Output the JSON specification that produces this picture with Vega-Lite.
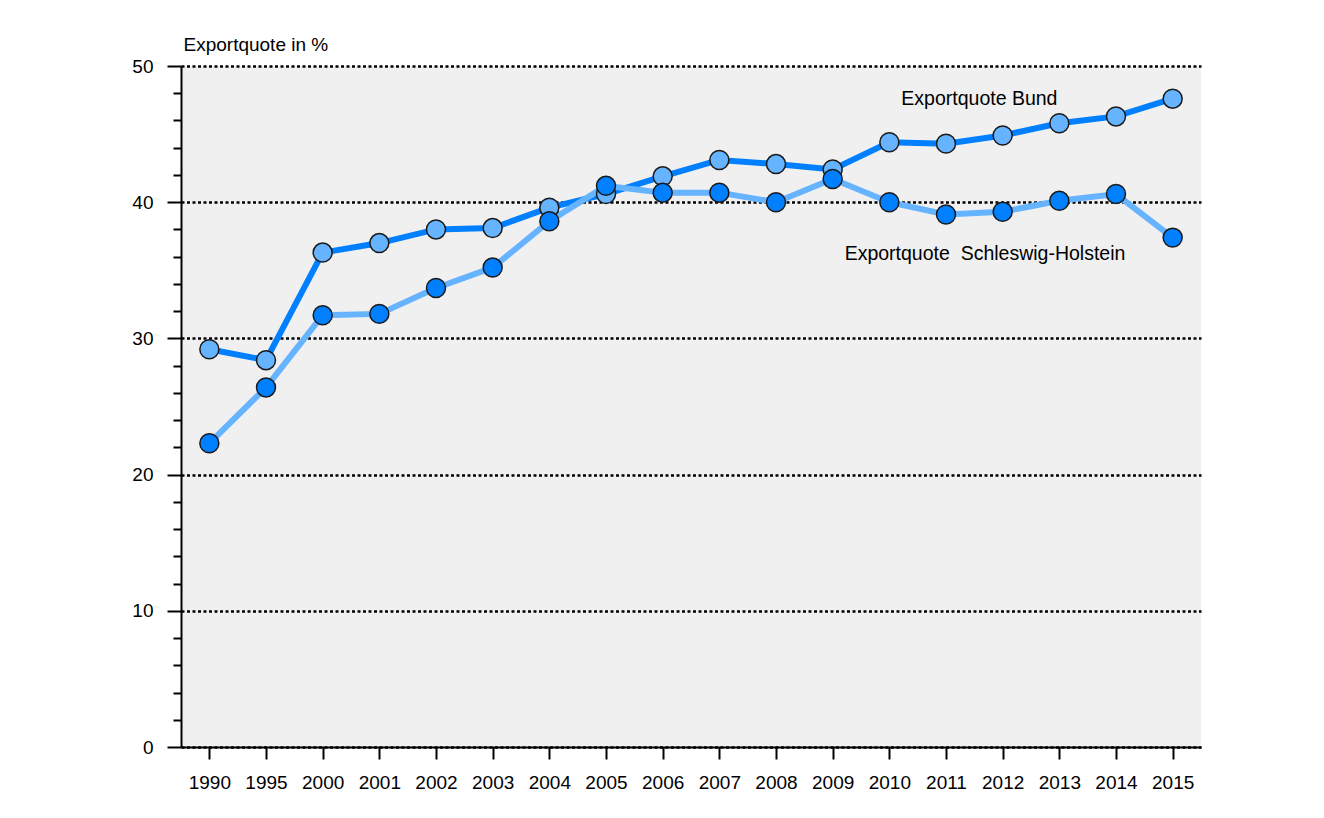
{
  "$schema": "https://vega.github.io/schema/vega-lite/v6.json",
  "autosize": "none",
  "width": 1020,
  "height": 681,
  "padding": {"left": 181, "top": 66, "right": 123, "bottom": 71},
  "background": "white",
  "config": {
    "view": {"fill": "#f0f0f0", "stroke": null},
    "font": "Liberation Sans Narrow, Arial Narrow, Liberation Sans, Arial",
    "axis": {"labelFont": "Liberation Sans Narrow, Arial Narrow, Liberation Sans, Arial", "titleFont": "Liberation Sans Narrow, Arial Narrow, Liberation Sans, Arial", "labelColor": "black", "titleColor": "black"}
  },
  "datasets": {
    "quote": [
      {"jahr": "1990", "serie": "Bund", "wert": 29.2},
      {"jahr": "1995", "serie": "Bund", "wert": 28.4},
      {"jahr": "2000", "serie": "Bund", "wert": 36.3},
      {"jahr": "2001", "serie": "Bund", "wert": 37.0},
      {"jahr": "2002", "serie": "Bund", "wert": 38.0},
      {"jahr": "2003", "serie": "Bund", "wert": 38.1},
      {"jahr": "2004", "serie": "Bund", "wert": 39.6},
      {"jahr": "2005", "serie": "Bund", "wert": 40.6},
      {"jahr": "2006", "serie": "Bund", "wert": 41.9},
      {"jahr": "2007", "serie": "Bund", "wert": 43.1},
      {"jahr": "2008", "serie": "Bund", "wert": 42.8},
      {"jahr": "2009", "serie": "Bund", "wert": 42.4},
      {"jahr": "2010", "serie": "Bund", "wert": 44.4},
      {"jahr": "2011", "serie": "Bund", "wert": 44.3},
      {"jahr": "2012", "serie": "Bund", "wert": 44.9},
      {"jahr": "2013", "serie": "Bund", "wert": 45.8},
      {"jahr": "2014", "serie": "Bund", "wert": 46.3},
      {"jahr": "2015", "serie": "Bund", "wert": 47.6},
      {"jahr": "1990", "serie": "SH", "wert": 22.3},
      {"jahr": "1995", "serie": "SH", "wert": 26.4},
      {"jahr": "2000", "serie": "SH", "wert": 31.7},
      {"jahr": "2001", "serie": "SH", "wert": 31.8},
      {"jahr": "2002", "serie": "SH", "wert": 33.7},
      {"jahr": "2003", "serie": "SH", "wert": 35.2},
      {"jahr": "2004", "serie": "SH", "wert": 38.6},
      {"jahr": "2005", "serie": "SH", "wert": 41.2},
      {"jahr": "2006", "serie": "SH", "wert": 40.7},
      {"jahr": "2007", "serie": "SH", "wert": 40.7},
      {"jahr": "2008", "serie": "SH", "wert": 40.0},
      {"jahr": "2009", "serie": "SH", "wert": 41.7},
      {"jahr": "2010", "serie": "SH", "wert": 40.0},
      {"jahr": "2011", "serie": "SH", "wert": 39.1},
      {"jahr": "2012", "serie": "SH", "wert": 39.3},
      {"jahr": "2013", "serie": "SH", "wert": 40.1},
      {"jahr": "2014", "serie": "SH", "wert": 40.6},
      {"jahr": "2015", "serie": "SH", "wert": 37.4}
    ],
    "labels": [
      {"jahr": "2010", "wert": 47.6, "text": "Exportquote Bund"},
      {"jahr": "2009", "wert": 36.2, "text": "Exportquote\u00a0 Schleswig-Holstein"}
    ]
  },
  "encoding": {
    "x": {
      "field": "jahr", "type": "ordinal", "sort": null,
      "scale": {"type": "point", "padding": 0.5},
      "axis": {"title": null, "labelAngle": 0, "labelFontSize": 19, "labelPadding": 14,
               "tickSize": 12, "tickWidth": 2, "tickColor": "black",
               "domainWidth": 2, "domainColor": "black", "grid": false}
    }
  },
  "layer": [
    {
      "data": {"name": "quote"},
      "transform": [{"filter": "datum.serie === 'Bund'"}],
      "mark": {"type": "line", "color": "#0080ff", "strokeWidth": 6},
      "encoding": {
        "y": {
          "field": "wert", "type": "quantitative",
          "scale": {"domain": [0, 50], "nice": false, "zero": true},
          "axis": {
            "values": [0, 10, 20, 30, 40, 50],
            "title": "Exportquote in %", "titleAngle": 0, "titleAlign": "left",
            "titleBaseline": "middle", "titleX": 2, "titleY": -22, "titleFontSize": 19, "titleFontWeight": "normal",
            "labelFontSize": 19, "labelPadding": 14,
            "tickSize": 14, "tickWidth": 2, "tickColor": "black",
            "domainWidth": 2, "domainColor": "black",
            "grid": true, "gridColor": "black", "gridWidth": 2.5, "gridDash": [3, 2.5], "gridOpacity": 1
          }
        }
      }
    },
    {
      "data": {"name": "quote"},
      "transform": [{"filter": "datum.serie === 'SH'"}],
      "mark": {"type": "line", "color": "#66b3ff", "strokeWidth": 6},
      "encoding": {
        "y": {
          "field": "wert", "type": "quantitative",
          "axis": {
            "values": [2, 4, 6, 8, 12, 14, 16, 18, 22, 24, 26, 28, 32, 34, 36, 38, 42, 44, 46, 48],
            "labels": false, "title": null, "grid": false, "domain": false,
            "tickSize": 8, "tickWidth": 2, "tickColor": "black", "orient": "left"
          }
        }
      }
    },
    {
      "data": {"name": "quote"},
      "transform": [{"filter": "datum.serie === 'Bund'"}],
      "mark": {"type": "point", "filled": true, "fill": "#66b3ff", "stroke": "#1a1a1a", "strokeWidth": 1.5, "size": 360, "opacity": 1},
      "encoding": {"y": {"field": "wert", "type": "quantitative", "axis": null}}
    },
    {
      "data": {"name": "quote"},
      "transform": [{"filter": "datum.serie === 'SH'"}],
      "mark": {"type": "point", "filled": true, "fill": "#0080ff", "stroke": "#1a1a1a", "strokeWidth": 1.5, "size": 360, "opacity": 1},
      "encoding": {"y": {"field": "wert", "type": "quantitative", "axis": null}}
    },
    {
      "data": {"name": "labels"},
      "mark": {"type": "text", "align": "left", "baseline": "middle", "fontSize": 19.5, "dx": 12, "color": "black"},
      "encoding": {
        "y": {"field": "wert", "type": "quantitative", "axis": null},
        "text": {"field": "text"}
      }
    }
  ],
  "resolve": {"axis": {"y": "independent"}}
}
